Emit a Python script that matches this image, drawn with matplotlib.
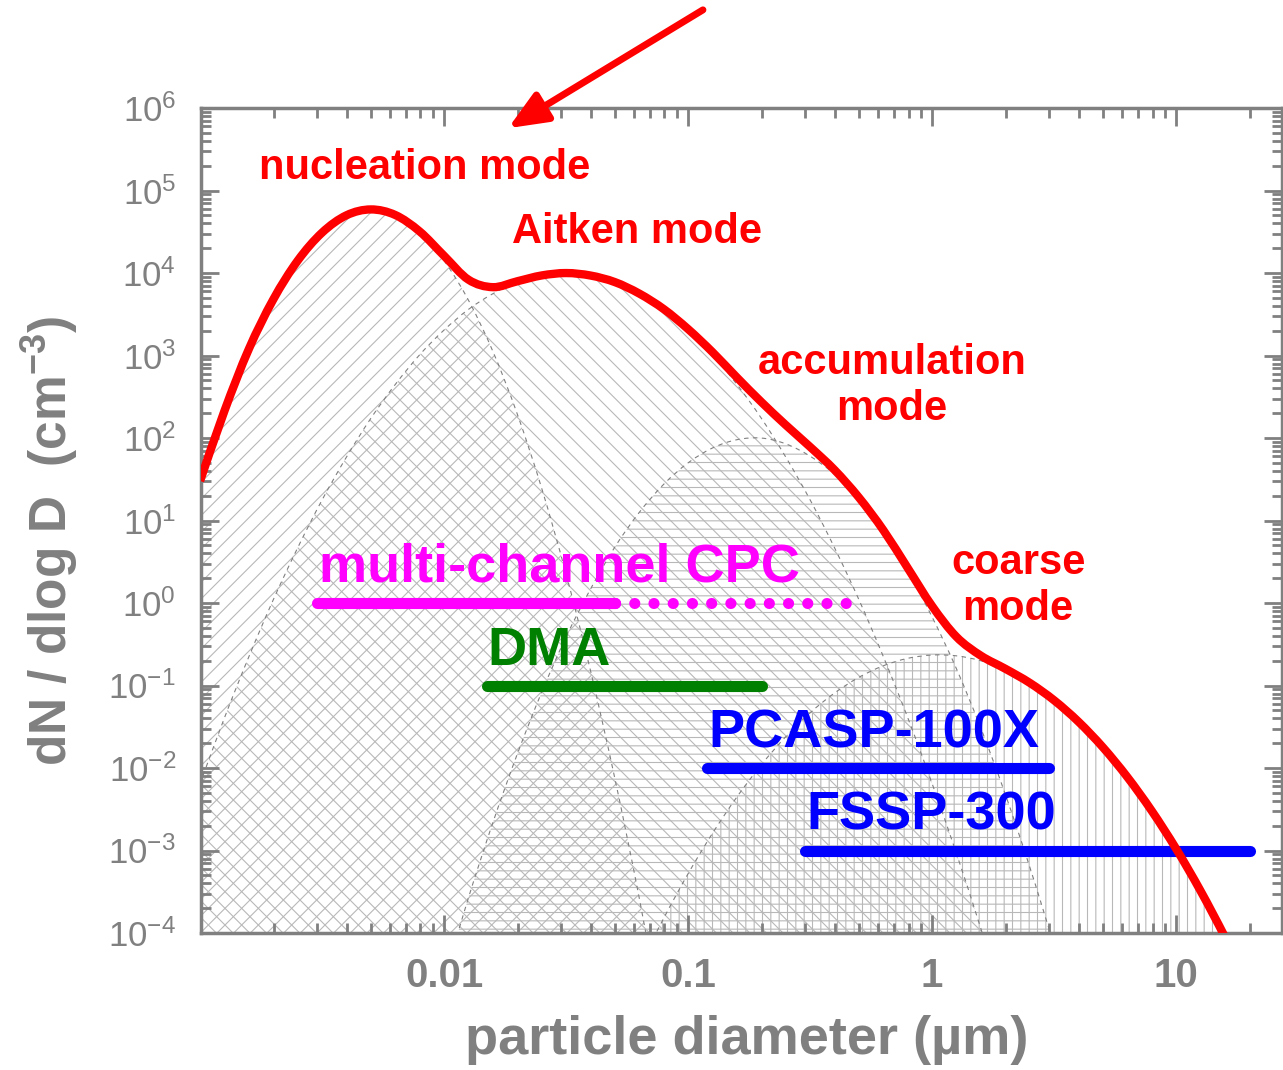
import numpy as np
import matplotlib
matplotlib.use("Agg")
import matplotlib.pyplot as plt
from matplotlib.path import Path
from matplotlib.patches import PathPatch
from matplotlib.ticker import LogLocator, NullFormatter

# log10(D / um) sampling grid shared by all modes
log_diam = np.round(np.arange(-3.0, 1.45, 0.1), 1)

# log10(dN/dlogD) for each mode, starting at the given log10(D)
nucleation_start = -3.0
nucleation_log = [1.48, 2.33, 3.08, 3.68, 4.15, 4.49, 4.70, 4.77, 4.70, 4.49,
                  4.15, 3.67, 3.05, 2.29, 1.39, 0.35, -0.82, -2.13, -3.58, -5.17]

aitken_start = -3.0
aitken_log = [-2.19, -1.39, -0.65, 0.04, 0.67, 1.25, 1.77, 2.24, 2.65, 3.01,
              3.31, 3.56, 3.75, 3.89, 3.97, 4.00, 3.97, 3.89, 3.75, 3.56,
              3.31, 3.01, 2.65, 2.24, 1.77, 1.25, 0.67, 0.04, -0.65, -1.39,
              -2.19, -3.04, -3.95, -4.91]

accumulation_start = -2.0
accumulation_log = [-4.56, -3.57, -2.66, -1.83, -1.08, -0.41, 0.17, 0.68, 1.10, 1.44,
                    1.70, 1.88, 1.98, 2.00, 1.93, 1.78, 1.56, 1.25, 0.86, 0.38,
                    -0.17, -0.80, -1.52, -2.32, -3.20, -4.16, -5.20]

coarse_start = -1.3
coarse_log = [-5.05, -4.41, -3.82, -3.28, -2.79, -2.35, -1.96, -1.62, -1.33, -1.09,
              -0.90, -0.76, -0.67, -0.63, -0.64, -0.70, -0.81, -0.97, -1.18, -1.44,
              -1.75, -2.11, -2.52, -2.98, -3.49, -4.05, -4.66, -5.32]

# instrument size ranges (um) and the level they are drawn at
instruments = ["multi-channel CPC", "DMA", "PCASP-100X", "FSSP-300"]
inst_lo = [0.003, 0.015, 0.12, 0.3]
inst_hi = [0.05, 0.2, 3.0, 20.0]
inst_level = [1.0, 0.1, 0.01, 0.001]
cpc_extended = [0.05, 0.47]

x_ticks = [0.01, 0.1, 1, 10]
x_tick_labels = ["0.01", "0.1", "1", "10"]

GRAY = "#808080"
HATCH = "#b8b8b8"

plt.rcParams.update({
    "font.family": ["Liberation Sans", "DejaVu Sans"],
    "mathtext.fontset": "custom",
    "mathtext.rm": "Liberation Sans",
    "mathtext.bf": "Liberation Sans:bold",
    "mathtext.it": "Liberation Sans:italic",
    "hatch.linewidth": 0.8,
    "hatch.color": HATCH,
})


def mode_on_grid(start, values):
    arr = np.full(len(log_diam), -np.inf)
    i0 = int(round((start - log_diam[0]) / 0.1))
    arr[i0:i0 + len(values)] = values
    return arr


def smooth_path(lx, ly, floor=None):
    # Catmull-Rom through the points in log-log space, as cubic Bezier pieces
    p = np.column_stack([lx, ly])
    pp = np.vstack([p[0], p, p[-1]])
    verts = [p[0]]
    codes = [Path.MOVETO]
    for i in range(len(p) - 1):
        c1 = pp[i + 1] + (pp[i + 2] - pp[i]) / 6
        c2 = pp[i + 2] - (pp[i + 3] - pp[i + 1]) / 6
        verts += [c1, c2, p[i + 1]]
        codes += [Path.CURVE4] * 3
    if floor is not None:
        verts += [(lx[-1], floor), (lx[0], floor), p[0]]
        codes += [Path.LINETO, Path.LINETO, Path.CLOSEPOLY]
    return Path(10 ** np.array(verts), codes)


modes = [
    (nucleation_start, nucleation_log, "//"),
    (aitken_start, aitken_log, "\\\\"),
    (accumulation_start, accumulation_log, "--"),
    (coarse_start, coarse_log, "||"),
]

fig = plt.figure(figsize=(12.83, 10.70), dpi=100)
ax = fig.add_axes([0.1567, 0.1280, 0.8426, 0.7710])
ax.set_xscale("log")
ax.set_yscale("log")
ax.set_xlim(10 ** -2.996, 10 ** 1.434)
ax.set_ylim(1e-4, 1e6)

total = np.zeros(len(log_diam))
for start, values, hatch in modes:
    grid = mode_on_grid(start, values)
    total += 10 ** grid
    keep = np.isfinite(grid)
    lx = log_diam[keep]
    ly = grid[keep]
    ax.add_patch(PathPatch(smooth_path(lx, ly, floor=-6), facecolor="none",
                           edgecolor=HATCH, hatch=hatch, linewidth=0, zorder=1))
    ax.add_patch(PathPatch(smooth_path(lx, ly), fill=False, edgecolor=GRAY,
                           lw=0.8, linestyle=(0, (4, 4)), zorder=2))

# instrument ranges
inst_colors = ["#ff00ff", "#008000", "#0000ff", "#0000ff"]
for lo, hi, lvl, c in zip(inst_lo, inst_hi, inst_level, inst_colors):
    ax.plot([lo, hi], [lvl, lvl], color=c, lw=8, solid_capstyle="round", zorder=4)
ax.plot(cpc_extended, [inst_level[0]] * 2, color=inst_colors[0], lw=8,
        linestyle=(0, (0.01, 1.72)), dash_capstyle="round", zorder=4)

# sum of all modes
ax.add_patch(PathPatch(smooth_path(log_diam, np.log10(total)), fill=False,
                       edgecolor="#ff0000", lw=6, zorder=5))

for s in ax.spines.values():
    s.set_color(GRAY)
    s.set_linewidth(2.5)

ax.yaxis.set_major_locator(LogLocator(base=10, numticks=20))
ax.yaxis.set_minor_locator(LogLocator(base=10, subs=np.arange(2, 10) * 1.0, numticks=200))
ax.yaxis.set_minor_formatter(NullFormatter())
ax.set_xticks(x_ticks)
ax.set_xticklabels(x_tick_labels, fontweight="bold")
ax.xaxis.set_minor_locator(LogLocator(base=10, subs=np.arange(2, 10) * 1.0, numticks=200))
ax.xaxis.set_minor_formatter(NullFormatter())

ax.tick_params(which="both", direction="in", top=True, right=True, color=GRAY)
ax.tick_params(which="major", length=13, width=2)
ax.tick_params(which="minor", length=7, width=2)
ax.tick_params(axis="y", labelsize=25, labelcolor=GRAY, pad=18)
ax.tick_params(axis="x", labelsize=29, labelcolor=GRAY, pad=17)

ax.set_xlabel("particle diameter (µm)", fontsize=39, fontweight="bold", color=GRAY)
ax.xaxis.set_label_coords(0.505, -0.099)
ax.set_ylabel("dN / dlog D  (cm$^{\\mathbf{-3}}$)", fontsize=37,
              fontweight="bold", color=GRAY)
ax.yaxis.set_label_coords(-0.112, 0.475)

mode_kw = dict(color="#ff0000", fontsize=30, fontweight="bold",
               ha="center", va="baseline", zorder=6)
ax.text(0.0083, 1.4e5, "nucleation mode", **mode_kw)
ax.text(0.0618, 2.3e4, "Aitken mode", **mode_kw)
ax.text(0.685, 165, "accumulation\nmode", multialignment="center", **mode_kw)
ax.text(2.25, 0.622, "coarse\nmode", multialignment="center", **mode_kw)

inst_kw = dict(fontsize=39, fontweight="bold", ha="center", va="baseline", zorder=6)
ax.text(0.0298, 1.8, instruments[0], color=inst_colors[0], **inst_kw)
ax.text(0.0269, 0.177, instruments[1], color=inst_colors[1], **inst_kw)
ax.text(0.578, 0.0175, instruments[2], color=inst_colors[2], **inst_kw)
ax.text(0.99, 0.00178, instruments[3], color=inst_colors[3], **inst_kw)

ax.annotate("", xy=(0.0183, 5.7e5), xytext=(0.115, 1.55e7),
            annotation_clip=False,
            arrowprops=dict(arrowstyle="-|>,head_length=0.9,head_width=0.38",
                            mutation_scale=26, color="#ff0000", lw=5,
                            shrinkA=0, shrinkB=0, clip_on=False))

fig.savefig("out.png", dpi=100)
